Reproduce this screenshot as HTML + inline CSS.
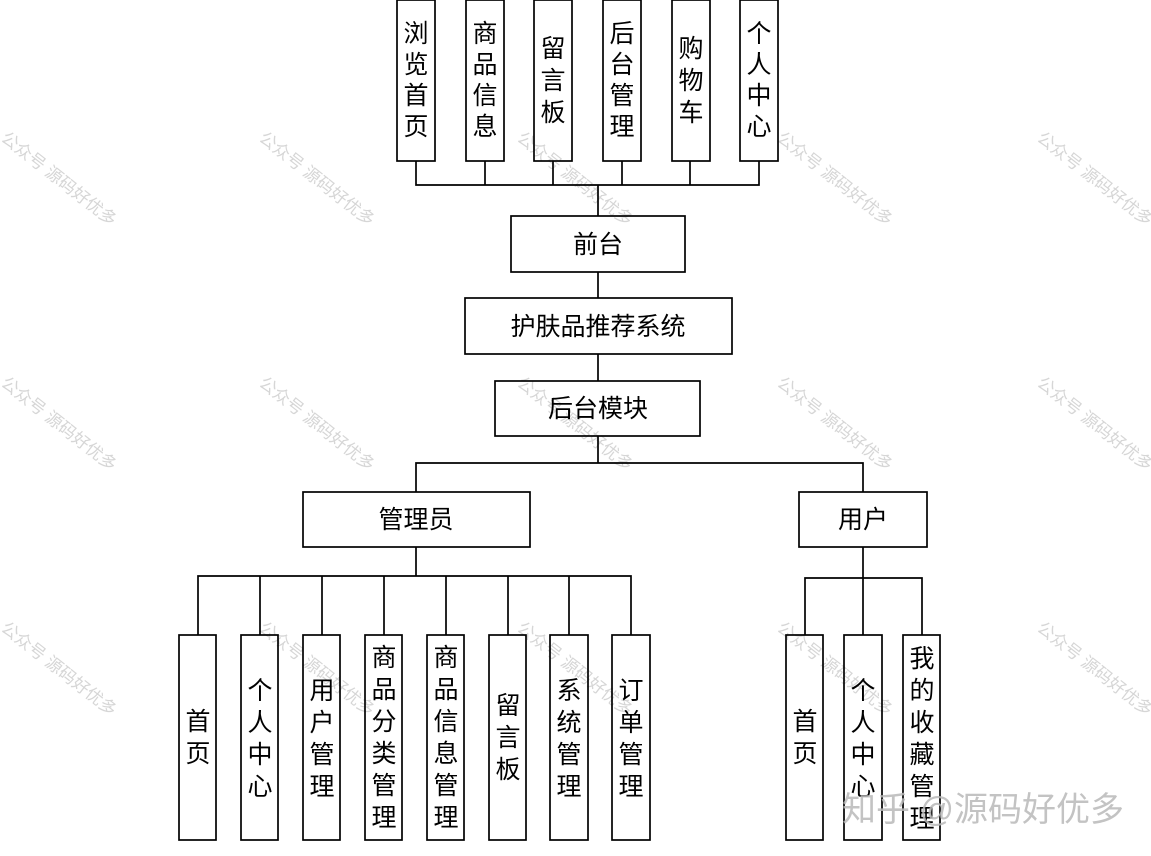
<!DOCTYPE html>
<html><head><meta charset="utf-8"><style>
html,body{margin:0;padding:0;background:#fff;}
svg{display:block;}
text{font-family:"Liberation Sans","Noto Sans CJK SC",sans-serif;}
</style></head><body>
<svg width="1151" height="856" viewBox="0 0 1151 856" xmlns="http://www.w3.org/2000/svg">
<g fill="#d6d6d6" font-size="17">
<text transform="translate(0,140) rotate(38)">公众号 源码好优多</text>
<text transform="translate(258,140) rotate(38)">公众号 源码好优多</text>
<text transform="translate(516,140) rotate(38)">公众号 源码好优多</text>
<text transform="translate(776,140) rotate(38)">公众号 源码好优多</text>
<text transform="translate(1036,140) rotate(38)">公众号 源码好优多</text>
<text transform="translate(0,385) rotate(38)">公众号 源码好优多</text>
<text transform="translate(258,385) rotate(38)">公众号 源码好优多</text>
<text transform="translate(516,385) rotate(38)">公众号 源码好优多</text>
<text transform="translate(776,385) rotate(38)">公众号 源码好优多</text>
<text transform="translate(1036,385) rotate(38)">公众号 源码好优多</text>
<text transform="translate(0,630) rotate(38)">公众号 源码好优多</text>
<text transform="translate(258,630) rotate(38)">公众号 源码好优多</text>
<text transform="translate(516,630) rotate(38)">公众号 源码好优多</text>
<text transform="translate(776,630) rotate(38)">公众号 源码好优多</text>
<text transform="translate(1036,630) rotate(38)">公众号 源码好优多</text>
</g>
<g stroke="#000" stroke-width="1.7" fill="none">
<polyline points="416,161 416,185 759,185 759,161"/>
<line x1="485" y1="161" x2="485" y2="185"/>
<line x1="553" y1="161" x2="553" y2="185"/>
<line x1="622" y1="161" x2="622" y2="185"/>
<line x1="690" y1="161" x2="690" y2="185"/>
<line x1="598" y1="185" x2="598" y2="216"/>
<line x1="598" y1="272" x2="598" y2="298"/>
<line x1="598" y1="354" x2="598" y2="381"/>
<line x1="598" y1="436" x2="598" y2="463"/>
<polyline points="416,492 416,463 863,463 863,492"/>
<line x1="416" y1="547" x2="416" y2="576"/>
<polyline points="198,635 198,576 631,576 631,635"/>
<line x1="260" y1="576" x2="260" y2="635"/>
<line x1="322" y1="576" x2="322" y2="635"/>
<line x1="384" y1="576" x2="384" y2="635"/>
<line x1="446" y1="576" x2="446" y2="635"/>
<line x1="508" y1="576" x2="508" y2="635"/>
<line x1="569" y1="576" x2="569" y2="635"/>
<line x1="863" y1="547" x2="863" y2="635"/>
<polyline points="805,635 805,578 922,578 922,635"/>
<rect x="397" y="0" width="38" height="161"/>
<rect x="466" y="0" width="38" height="161"/>
<rect x="534" y="0" width="38" height="161"/>
<rect x="603" y="0" width="38" height="161"/>
<rect x="672" y="0" width="38" height="161"/>
<rect x="740" y="0" width="38" height="161"/>
<rect x="511" y="216" width="174" height="56"/>
<rect x="465" y="298" width="267" height="56"/>
<rect x="495" y="381" width="205" height="55"/>
<rect x="303" y="492" width="227" height="55"/>
<rect x="799" y="492" width="128" height="55"/>
<rect x="179" y="635" width="37" height="205"/>
<rect x="241" y="635" width="37" height="205"/>
<rect x="303" y="635" width="37" height="205"/>
<rect x="365" y="635" width="37" height="205"/>
<rect x="427" y="635" width="37" height="205"/>
<rect x="489" y="635" width="37" height="205"/>
<rect x="550" y="635" width="38" height="205"/>
<rect x="612" y="635" width="38" height="205"/>
<rect x="786" y="635" width="37" height="205"/>
<rect x="844" y="635" width="38" height="205"/>
<rect x="903" y="635" width="37" height="205"/>
</g>
<g font-size="25" fill="#000" text-anchor="middle">
<text><tspan x="416" y="42">浏</tspan><tspan x="416" y="73">览</tspan><tspan x="416" y="104">首</tspan><tspan x="416" y="135">页</tspan></text>
<text><tspan x="485" y="42">商</tspan><tspan x="485" y="73">品</tspan><tspan x="485" y="104">信</tspan><tspan x="485" y="135">息</tspan></text>
<text><tspan x="553" y="57">留</tspan><tspan x="553" y="89">言</tspan><tspan x="553" y="121">板</tspan></text>
<text><tspan x="622" y="42">后</tspan><tspan x="622" y="73">台</tspan><tspan x="622" y="104">管</tspan><tspan x="622" y="135">理</tspan></text>
<text><tspan x="691" y="57">购</tspan><tspan x="691" y="89">物</tspan><tspan x="691" y="121">车</tspan></text>
<text><tspan x="759" y="42">个</tspan><tspan x="759" y="73">人</tspan><tspan x="759" y="104">中</tspan><tspan x="759" y="135">心</tspan></text>
<text x="598" y="253">前台</text>
<text x="598" y="335">护肤品推荐系统</text>
<text x="598" y="417">后台模块</text>
<text x="416" y="528">管理员</text>
<text x="863" y="528">用户</text>
<text><tspan x="198" y="730">首</tspan><tspan x="198" y="762">页</tspan></text>
<text><tspan x="260" y="699">个</tspan><tspan x="260" y="731">人</tspan><tspan x="260" y="763">中</tspan><tspan x="260" y="795">心</tspan></text>
<text><tspan x="322" y="699">用</tspan><tspan x="322" y="731">户</tspan><tspan x="322" y="763">管</tspan><tspan x="322" y="795">理</tspan></text>
<text><tspan x="384" y="666">商</tspan><tspan x="384" y="698">品</tspan><tspan x="384" y="730">分</tspan><tspan x="384" y="762">类</tspan><tspan x="384" y="794">管</tspan><tspan x="384" y="826">理</tspan></text>
<text><tspan x="446" y="666">商</tspan><tspan x="446" y="698">品</tspan><tspan x="446" y="730">信</tspan><tspan x="446" y="762">息</tspan><tspan x="446" y="794">管</tspan><tspan x="446" y="826">理</tspan></text>
<text><tspan x="508" y="714">留</tspan><tspan x="508" y="746">言</tspan><tspan x="508" y="778">板</tspan></text>
<text><tspan x="569" y="699">系</tspan><tspan x="569" y="731">统</tspan><tspan x="569" y="763">管</tspan><tspan x="569" y="795">理</tspan></text>
<text><tspan x="631" y="699">订</tspan><tspan x="631" y="731">单</tspan><tspan x="631" y="763">管</tspan><tspan x="631" y="795">理</tspan></text>
<text><tspan x="805" y="730">首</tspan><tspan x="805" y="762">页</tspan></text>
<text><tspan x="863" y="699">个</tspan><tspan x="863" y="731">人</tspan><tspan x="863" y="763">中</tspan><tspan x="863" y="795">心</tspan></text>
<text><tspan x="922" y="667">我</tspan><tspan x="922" y="699">的</tspan><tspan x="922" y="731">收</tspan><tspan x="922" y="763">藏</tspan><tspan x="922" y="795">管</tspan><tspan x="922" y="827">理</tspan></text>
</g>
<text x="842" y="821" font-size="34" fill="#b8b8b8" fill-opacity="0.85">知乎 @源码好优多</text>
</svg>
</body></html>
